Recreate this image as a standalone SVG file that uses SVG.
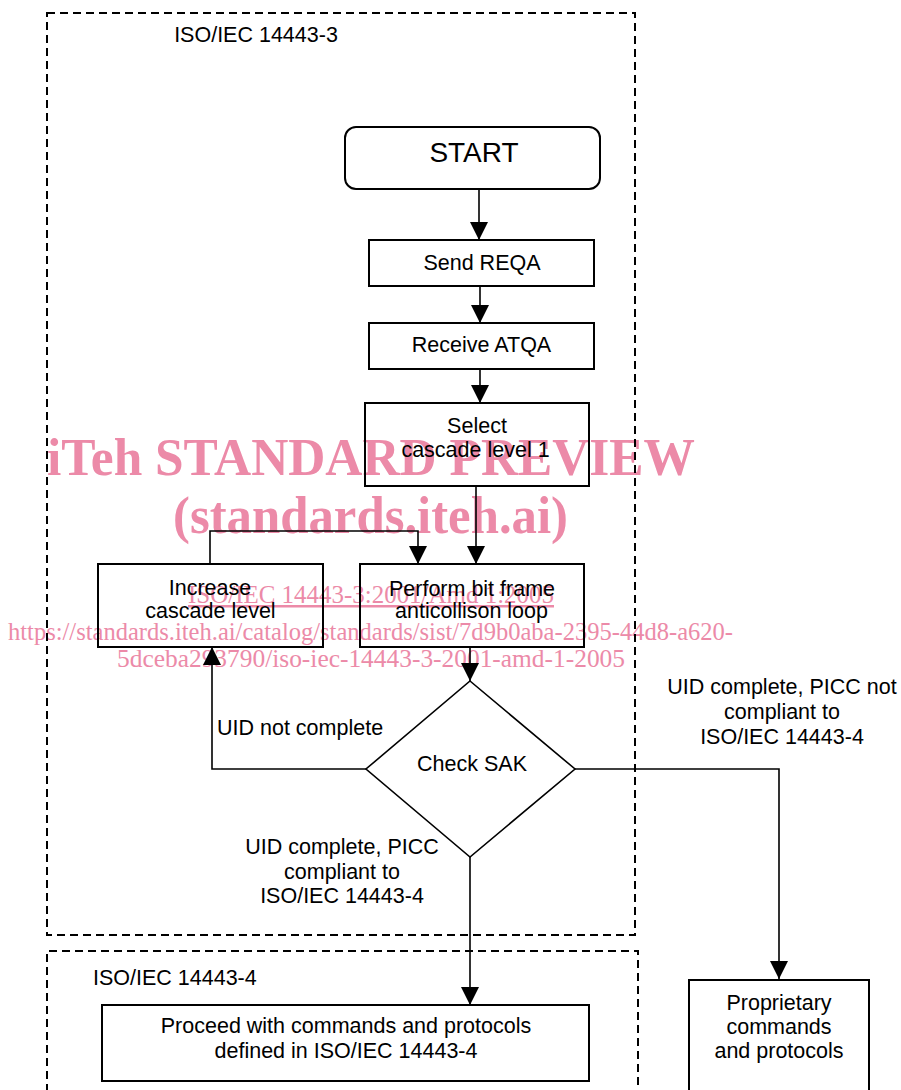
<svg xmlns="http://www.w3.org/2000/svg" width="901" height="1090" viewBox="0 0 901 1090">
<defs>
<style>
.frame{fill:none;stroke:#000;stroke-width:2;stroke-dasharray:8,5}
.box{fill:none;stroke:#000;stroke-width:2}
.ln{fill:none;stroke:#000;stroke-width:1.6}
.t{font-family:"Liberation Sans",Arial,sans-serif;font-size:21.5px;fill:#000;text-anchor:middle}
.tl{font-family:"Liberation Sans",Arial,sans-serif;font-size:21.5px;fill:#000}
.wm{font-family:"Liberation Serif","Times New Roman",serif;fill:#ec8aa8}
.wmb{font-weight:bold;font-size:53px}
.wmr{font-size:25px}
</style>
<marker id="ah" markerUnits="userSpaceOnUse" markerWidth="18" markerHeight="18" refX="18" refY="9" orient="auto" viewBox="0 0 18 18">
<path d="M0,0 L18,9 L0,18 z" fill="#000"/>
</marker>
</defs>
<rect width="901" height="1090" fill="#fff"/>
<g id="watermark">
<text class="wm wmb" x="47" y="475" textLength="648" lengthAdjust="spacingAndGlyphs">iTeh STANDARD PREVIEW</text>
<text class="wm wmb" x="173" y="533" textLength="395" lengthAdjust="spacingAndGlyphs">(standards.iteh.ai)</text>
<text class="wm wmr" x="188" y="603" textLength="366" lengthAdjust="spacingAndGlyphs" text-decoration="underline">ISO/IEC 14443-3:2001/Amd 1:2005</text>
<text class="wm wmr" x="8" y="640" textLength="725" lengthAdjust="spacingAndGlyphs">https://standards.iteh.ai/catalog/standards/sist/7d9b0aba-2395-44d8-a620-</text>
<text class="wm wmr" x="117" y="667" textLength="508" lengthAdjust="spacingAndGlyphs">5dceba293790/iso-iec-14443-3-2001-amd-1-2005</text>
</g>
<g id="frame-14443-3">
<rect class="frame" x="47" y="13" width="588" height="922"/>
<text class="t" x="256" y="42">ISO/IEC 14443-3</text>
</g>
<g id="frame-14443-4">
<path class="frame" d="M47,1092 V951 H638 V1092"/>
<text class="tl" x="93" y="985">ISO/IEC 14443-4</text>
</g>
<g id="connectors">
<path class="ln" d="M479,189 V240" marker-end="url(#ah)"/>
<path class="ln" d="M480,286 V323" marker-end="url(#ah)"/>
<path class="ln" d="M480,369 V403" marker-end="url(#ah)"/>
<path class="ln" d="M476,486 V564" marker-end="url(#ah)"/>
<path class="ln" d="M210,564 V531 H418 V564" marker-end="url(#ah)"/>
<path class="ln" d="M470,647 V681" marker-end="url(#ah)"/>
<path class="ln" d="M366,769 H212 V647" marker-end="url(#ah)"/>
<path class="ln" d="M470,857 V1005" marker-end="url(#ah)"/>
<path class="ln" d="M575,769 H779 V979" marker-end="url(#ah)"/>
<text class="tl" x="217" y="735">UID not complete</text>
<text class="t" x="342" y="854">UID complete, PICC</text>
<text class="t" x="342" y="878.5">compliant to</text>
<text class="t" x="342" y="903">ISO/IEC 14443-4</text>
<text class="t" x="782" y="694">UID complete, PICC not</text>
<text class="t" x="782" y="719">compliant to</text>
<text class="t" x="782" y="744">ISO/IEC 14443-4</text>
</g>
<g id="start">
<rect class="box" x="345" y="127" width="255" height="62" rx="11"/>
<text class="t" x="474" y="162" style="font-size:28px">START</text>
</g>
<g id="send-reqa">
<rect class="box" x="369" y="240" width="225" height="46"/>
<text class="t" x="482" y="270">Send REQA</text>
</g>
<g id="receive-atqa">
<rect class="box" x="369" y="323" width="225" height="46"/>
<text class="t" x="481.5" y="352">Receive ATQA</text>
</g>
<g id="select-cascade">
<rect class="box" x="365" y="403" width="224" height="83"/>
<text class="t" x="477" y="433">Select</text>
<text class="t" x="475.5" y="457">cascade level 1</text>
</g>
<g id="increase-cascade">
<rect class="box" x="98" y="564" width="225" height="83"/>
<text class="t" x="210" y="595">Increase</text>
<text class="t" x="210.5" y="618">cascade level</text>
</g>
<g id="anticollision">
<rect class="box" x="360" y="564" width="224" height="83"/>
<text class="t" x="472" y="596">Perform bit frame</text>
<text class="t" x="471.5" y="618">anticollison loop</text>
</g>
<g id="check-sak">
<path class="box" d="M470,681 L575,769 L470,857 L366,769 Z" style="stroke-width:1.6"/>
<text class="t" x="472" y="771">Check SAK</text>
</g>
<g id="proceed">
<rect class="box" x="102" y="1005" width="487" height="76"/>
<text class="t" x="346" y="1033">Proceed with commands and protocols</text>
<text class="t" x="346" y="1058">defined in ISO/IEC 14443-4</text>
</g>
<g id="proprietary">
<rect class="box" x="689" y="980" width="180" height="120"/>
<text class="t" x="779" y="1010">Proprietary</text>
<text class="t" x="779" y="1034">commands</text>
<text class="t" x="779" y="1058">and protocols</text>
</g>
</svg>
